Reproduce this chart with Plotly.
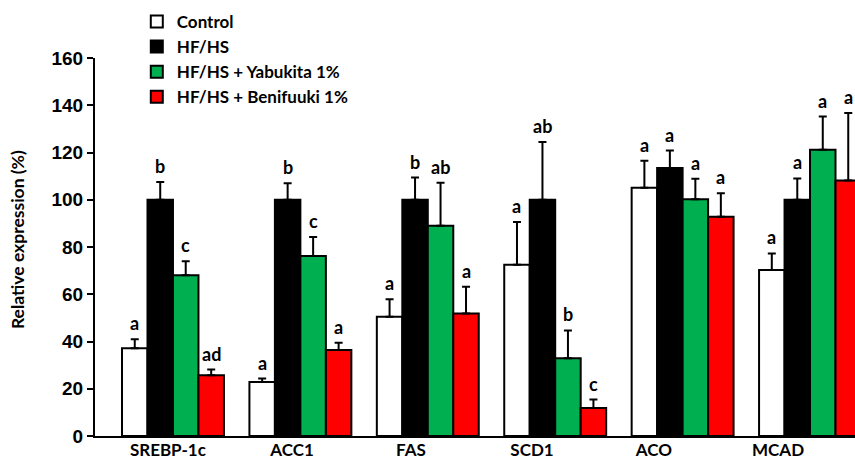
import plotly.graph_objects as go

categories = ["SREBP-1c", "ACC1", "FAS", "SCD1", "ACO", "MCAD"]
series_names = ["Control", "HF/HS", "HF/HS + Yabukita 1%", "HF/HS + Benifuuki 1%"]
control = [37.1, 22.9, 50.5, 72.5, 105.1, 70.3]
control_err = [3.8, 1.4, 7.4, 18.1, 11.4, 7.0]
hfhs = [100, 100, 100, 100, 113.4, 100]
hfhs_err = [7.5, 7.0, 9.4, 24.4, 7.4, 9.0]
yabukita = [68.0, 76.2, 89.0, 32.9, 100.2, 121.2]
yabukita_err = [6.0, 8.0, 18.2, 11.8, 8.7, 14.0]
benifuuki = [25.7, 36.4, 51.8, 11.9, 92.8, 108.2]
benifuuki_err = [2.4, 3.1, 11.4, 3.5, 9.9, 28.5]
letters = [
    ["a", "a", "a", "a", "a", "a"],
    ["b", "b", "b", "ab", "a", "a"],
    ["c", "c", "ab", "b", "a", "a"],
    ["ad", "a", "a", "c", "a", "a"],
]
y_ticks = [0, 20, 40, 60, 80, 100, 120, 140, 160]

# layout constants
label_pos = [-0.04, 0.935, 1.868, 2.818, 3.775, 4.749]
colors = ["white", "black", "#00B050", "#FF0000"]

values = [control, hfhs, yabukita, benifuuki]
errors = [control_err, hfhs_err, yabukita_err, benifuuki_err]
xs = list(range(len(categories)))

fig = go.Figure()
for j in range(4):
    fig.add_trace(go.Bar(
        x=xs, y=values[j], name=series_names[j],
        marker=dict(color=colors[j], line=dict(color="black", width=2)),
        error_y=dict(type="data", symmetric=False, array=errors[j],
                     arrayminus=[0] * len(categories),
                     color="black", thickness=2, width=4),
    ))

offsets = [-0.3, -0.1, 0.1, 0.3]
for j in range(4):
    for i in xs:
        fig.add_annotation(
            x=i + offsets[j], y=values[j][i] + errors[j][i], text=letters[j][i],
            showarrow=False, yanchor="bottom", yshift=3,
            font=dict(family="Lato", size=18, color="black", weight="bold"),
        )

fig.add_annotation(
    text="Relative expression (%)", xref="paper", yref="paper",
    x=-0.101, y=0.519, xanchor="center", yanchor="middle", textangle=-90,
    showarrow=False, font=dict(family="Lato", size=17.5, color="black", weight="bold"),
)

fig.update_layout(
    width=855, height=460,
    margin=dict(l=95, r=0, t=58, b=24),
    paper_bgcolor="white", plot_bgcolor="white",
    barmode="group", bargap=0.2, bargroupgap=0,
    showlegend=True,
    legend=dict(x=0.055, y=1.143, xanchor="left", yanchor="top",
                font=dict(family="Lato", size=17, color="black", weight="bold"),
                tracegroupgap=0, itemsizing="constant", bgcolor="rgba(0,0,0,0)"),
    xaxis=dict(range=[-0.612, 5.353], tickmode="array", tickvals=label_pos,
               ticktext=categories, showline=True, linecolor="black", linewidth=2,
               ticks="", showgrid=False, zeroline=False, automargin=False,
               ticklabelstandoff=-2,
               tickfont=dict(family="Lato", size=17, color="black", weight="bold")),
    yaxis=dict(range=[0, 160], tickmode="array", tickvals=y_ticks,
               showline=True, linecolor="black", linewidth=2,
               ticks="outside", ticklen=6, tickwidth=1.5, tickcolor="black",
               showgrid=False, zeroline=False, automargin=False,
               tickfont=dict(family="Liberation Sans", size=19, color="black", weight="bold")),
)

fig.write_html("out.html", config={"displayModeBar": False},
               post_script="document.body.style.margin='0';document.body.style.overflow='hidden';")
